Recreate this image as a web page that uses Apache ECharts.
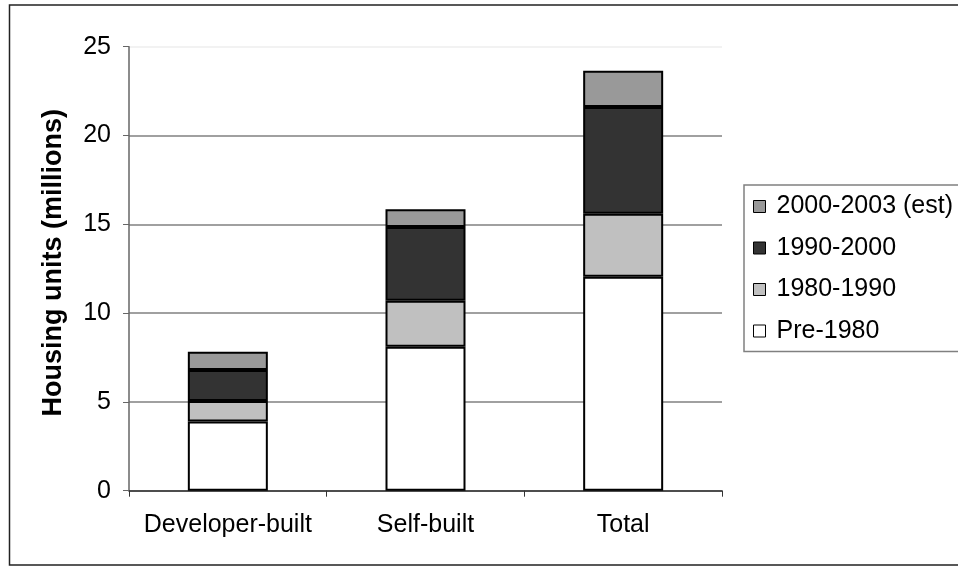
<!DOCTYPE html>
<html>
<head>
<meta charset="utf-8">
<script src="https://cdn.jsdelivr.net/npm/echarts@6/dist/echarts.min.js"></script>
<style>
  html, body { margin: 0; padding: 0; background: #fff; }
  #chart { width: 958px; height: 571px; }
</style>
</head>
<body>
<div id="chart"></div>
<script>
// 数据：各类住房存量（百万套）
const categories = ['Developer-built', 'Self-built', 'Total'];
const pre1980 = [3.9, 8.1, 12.05];
const y1980_1990 = [1.15, 2.6, 3.55];
const y1990_2000 = [1.75, 4.15, 6.0];
const y2000_2003 = [1.03, 1.0, 2.05];
const legendOrder = ['2000-2003 (est)', '1990-2000', '1980-1990', 'Pre-1980'];

const font = 'Liberation Sans, Arial, sans-serif';

function stackSeries(name, data, color) {
  return {
    name: name,
    type: 'bar',
    stack: 'units',
    barWidth: 80,
    data: data,
    itemStyle: { color: color, borderColor: '#000', borderWidth: 2 }
  };
}

const chart = echarts.init(document.getElementById('chart'));

chart.setOption({
  backgroundColor: '#fff',
  animation: false,
  graphic: [{
    type: 'rect',
    shape: { x: 9.5, y: 5, width: 960, height: 560 },
    style: { fill: 'none', stroke: '#222', lineWidth: 1.5 },
    silent: true
  }],
  grid: { left: 129, right: 236, top: 46.7, bottom: 80.3 },
  legend: {
    orient: 'vertical',
    left: 744,
    top: 185,
    data: legendOrder,
    itemWidth: 12,
    itemHeight: 12,
    itemGap: 16.5,
    padding: [9, 6, 8, 9],
    borderColor: '#808080',
    borderWidth: 1.5,
    icon: 'rect',
    itemStyle: { borderColor: '#000', borderWidth: 1 },
    textStyle: { fontFamily: font, fontSize: 25, color: '#000', padding: [0, 0, 0, 6] }
  },
  xAxis: {
    type: 'category',
    data: categories,
    axisLine: { lineStyle: { color: '#333', width: 1.5 } },
    axisTick: { show: true, length: 6, lineStyle: { color: '#333' } },
    axisLabel: { fontFamily: font, fontSize: 25, color: '#000', margin: 22, interval: 0 }
  },
  yAxis: {
    type: 'value',
    min: 0,
    max: 25,
    interval: 5,
    name: 'Housing units (millions)',
    nameLocation: 'middle',
    nameGap: 62,
    nameTextStyle: { fontFamily: font, fontSize: 27, fontWeight: 'bold', color: '#000', padding: [0, 0, 0, 12] },
    axisLine: { show: true, lineStyle: { color: '#666', width: 1.5 } },
    axisTick: { show: true, length: 6, lineStyle: { color: '#666' } },
    axisLabel: { fontFamily: font, fontSize: 25, color: '#000', margin: 18 },
    splitLine: {
      show: true,
      lineStyle: { color: ['#808080', '#808080', '#808080', '#808080', '#808080', '#eeeeee'], width: 1.5 }
    }
  },
  series: [
    stackSeries('Pre-1980', pre1980, '#ffffff'),
    stackSeries('1980-1990', y1980_1990, '#c0c0c0'),
    stackSeries('1990-2000', y1990_2000, '#333333'),
    stackSeries('2000-2003 (est)', y2000_2003, '#999999')
  ]
});
</script>
</body>
</html>
